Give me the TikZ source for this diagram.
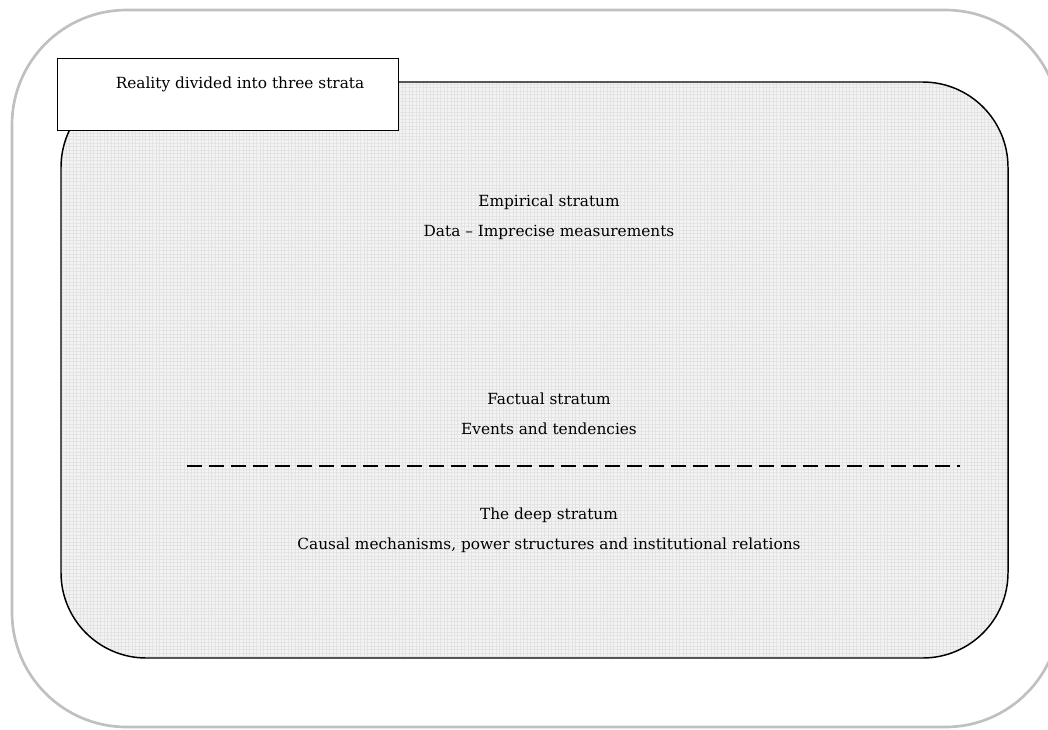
\documentclass[tikz,border=0pt]{standalone}
\usepackage{fontspec}
\setmainfont{DejaVu Serif}
\usetikzlibrary{patterns.meta}
\begin{document}
\begin{tikzpicture}[x=0.75pt,y=-0.75pt,
  outerframe/.style={draw={rgb,255:red,192;green,192;blue,192},line width=2pt,rounded corners=86pt},
  areashape/.style={rounded corners=64pt},
  areafill/.style={areashape,fill={rgb,255:red,243;green,243;blue,243}},
  areagrid/.style={areashape,pattern={Lines[distance=2.6pt,angle=#1,line width=0.25pt]},pattern color=gray!22},
  areaborder/.style={areashape,draw=black,line width=1.1pt},
  titlebox/.style={draw=black,line width=1.1pt,fill=white},
  stratumtext/.style={font=\fontsize{11.5pt}{22.5pt}\selectfont,align=center,inner sep=0pt},
  divider/.style={line width=1.1pt,dash pattern=on 11.5pt off 5pt}]
\useasboundingbox (0,0) rectangle (1048,729);
\draw[outerframe] (12,10) rectangle (1060,727);
\fill[areafill] (61,82) rectangle (1008,658);
\path[areagrid=0] (61,82) rectangle (1008,658);
\path[areagrid=90] (61,82) rectangle (1008,658);
\draw[areaborder] (61,82) rectangle (1008,658);
\node[titlebox,minimum width=341*0.75pt,minimum height=72*0.75pt,anchor=north west,inner sep=0pt] (title) at (57,58) {};
\node[stratumtext,anchor=center] (titletext) at (240,84) {Reality divided into three strata};
\node[stratumtext] (empirical) at (549,217) {Empirical stratum\\Data – Imprecise measurements};
\node[stratumtext] (factual) at (549,414) {Factual stratum\\Events and tendencies};
\node[stratumtext] (deep) at (549,530) {The deep stratum\\Causal mechanisms, power structures and institutional relations};
\coordinate (dashL) at (187,466);
\coordinate (dashR) at (960,466);
\draw[divider] (dashL) -- (dashR);
\end{tikzpicture}
\end{document}
